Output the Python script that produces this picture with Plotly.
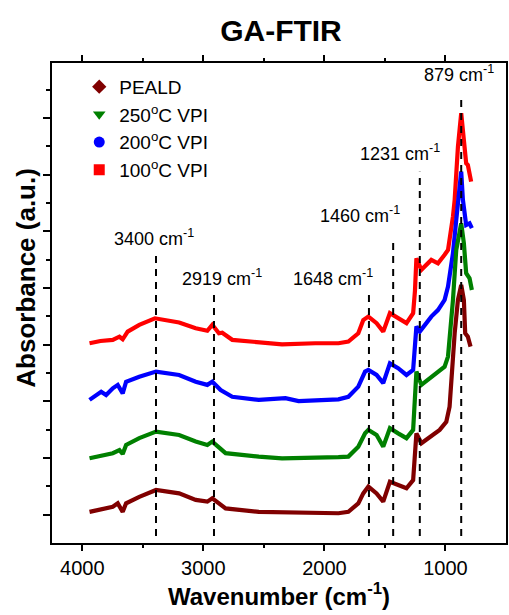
import plotly.graph_objects as go

# ---- data ----
wn_100 = [3940, 3850, 3748, 3693, 3666, 3625, 3529, 3400, 3200, 3063, 2967, 2926, 2871, 2844, 2761, 2542, 2350, 2076, 1884,
          1802, 1720, 1679, 1637, 1569, 1514, 1459, 1391, 1322, 1267, 1252, 1240, 1212, 1199, 1117, 1062, 1007, 979, 938,
          924, 897, 870, 850, 829, 815, 788]
ab_100 = [7.05, 7.13, 7.17, 7.28, 7.19, 7.46, 7.70, 7.93, 7.78, 7.58, 7.49, 7.70, 7.40, 7.42, 7.17, 7.08, 7.01, 7.05, 7.05,
          7.11, 7.40, 7.87, 7.99, 7.76, 7.46, 8.11, 7.93, 7.76, 8.11, 8.9, 10.05, 9.70, 9.64, 9.99, 9.87, 10.17, 10.34, 11.52,
          12.11, 13.99, 15.17, 14.3, 13.40, 13.34, 12.75]

wn_200 = [3940, 3885, 3844, 3803, 3748, 3707, 3666, 3638, 3529, 3391, 3200, 3063, 2967, 2926, 2857, 2761, 2542, 2322, 2213,
          1884, 1802, 1720, 1664, 1637, 1569, 1514, 1459, 1391, 1322, 1267, 1240, 1212, 1171, 1117, 1062, 1007, 979, 938,
          911, 870, 856, 842, 829, 801, 782]
ab_200 = [5.05, 5.22, 5.34, 5.22, 5.46, 5.58, 5.28, 5.69, 5.87, 6.05, 5.93, 5.69, 5.58, 5.69, 5.40, 5.16, 5.05, 5.11, 5.01,
          5.07, 5.16, 5.52, 6.05, 6.11, 5.93, 5.64, 6.34, 6.17, 5.93, 6.11, 7.64, 7.46, 7.70, 7.99, 8.22, 8.58, 9.05, 10.23,
          11.40, 13.11, 12.11, 11.75, 11.22, 11.28, 11.11]

wn_250 = [3940, 3748, 3693, 3666, 3638, 3529, 3391, 3200, 3063, 2967, 2926, 2857, 2816, 2542, 2350, 1884, 1802, 1720, 1664,
          1637, 1569, 1514, 1459, 1391, 1322, 1267, 1240, 1199, 1130, 1076, 1007, 979, 938, 911, 870, 848, 829, 801, 782]
ab_250 = [2.99, 3.17, 3.28, 3.14, 3.46, 3.70, 3.93, 3.81, 3.58, 3.46, 3.58, 3.34, 3.17, 3.05, 2.99, 3.03, 3.05, 3.40, 3.87,
          3.99, 3.81, 3.40, 4.05, 3.87, 3.70, 3.99, 6.05, 5.58, 5.81, 5.99, 6.22, 6.58, 8.58, 10.34, 11.28, 10.58, 9.52,
          9.34, 8.93]

wn_peald = [3940, 3748, 3707, 3666, 3638, 3529, 3391, 3200, 3063, 2967, 2926, 2857, 2816, 2542, 1884, 1802, 1720, 1679,
            1637, 1569, 1514, 1459, 1391, 1322, 1267, 1240, 1199, 1144, 1089, 1048, 993, 966, 924, 897, 870, 848, 837, 815,
            793]
ab_peald = [1.10, 1.28, 1.40, 1.10, 1.40, 1.63, 1.87, 1.75, 1.52, 1.46, 1.58, 1.34, 1.22, 1.10, 1.05, 1.10, 1.40, 1.75,
            1.99, 1.75, 1.46, 2.16, 2.05, 1.93, 2.22, 3.87, 3.52, 3.70, 3.87, 3.99, 4.28, 4.81, 7.40, 8.58, 9.11, 8.58, 7.40,
            7.28, 6.93]

series_names = ["PEALD", "250<sup>o</sup>C VPI", "200<sup>o</sup>C VPI", "100<sup>o</sup>C VPI"]
series_colors = ["#800000", "#008000", "#0000FF", "#FF0000"]
series_symbols = ["diamond", "triangle-down", "circle", "square"]

# dashed guide lines (positions as drawn in the picture)
guide_wn = [3391, 2912, 1632, 1432, 1212, 870]
guide_top = [10.27, 8.82, 8.75, 10.7, 13.1, 15.8]
peak_labels = ["3400 cm<sup>-1</sup>", "2919 cm<sup>-1</sup>", "1648 cm<sup>-1</sup>",
               "1460 cm<sup>-1</sup>", "1231 cm<sup>-1</sup>", "879 cm<sup>-1</sup>"]
label_wn = [3405, 2846, 1932, 1703, 1374, 889]
label_y = [10.3, 8.9, 8.9, 11.1, 13.3, 16.1]

x_ticks = [4000, 3000, 2000, 1000]

FONT = "Arial, Liberation Sans, sans-serif"

fig = go.Figure()

data = [(wn_peald, ab_peald), (wn_250, ab_250), (wn_200, ab_200), (wn_100, ab_100)]
for i in [3, 2, 1, 0]:
    xs, ys = data[i]
    fig.add_trace(go.Scatter(x=xs, y=ys, mode="lines", line=dict(color=series_colors[i], width=4.2),
                             showlegend=False, hoverinfo="skip"))

for w, t in zip(guide_wn, guide_top):
    fig.add_trace(go.Scatter(x=[w, w], y=[0.25, t], mode="lines",
                             line=dict(color="black", width=2, dash="7px,6px"),
                             showlegend=False, hoverinfo="skip"))

for name, col, sym in zip(series_names, series_colors, series_symbols):
    fig.add_trace(go.Scatter(x=[None], y=[None], mode="markers", name=name,
                             marker=dict(color=col, symbol=sym, size=11)))

for txt, xw, yv in zip(peak_labels, label_wn, label_y):
    fig.add_annotation(x=xw, y=yv, xref="x", yref="y", text=txt, showarrow=False,
                       xanchor="center", yanchor="bottom", font=dict(size=18, color="black", family=FONT))

# y axis title
fig.add_annotation(x=-0.058, y=0.552, xref="paper", yref="paper", text="<b>Absorbance (a.u.)</b>",
                   textangle=-90, showarrow=False, xanchor="center", yanchor="middle",
                   font=dict(size=26, color="black", family=FONT))

fig.update_layout(
    width=509, height=615,
    margin=dict(l=52, r=1, t=63, b=72),
    paper_bgcolor="white", plot_bgcolor="white",
    font=dict(family=FONT, color="black"),
    title=dict(text="<b>GA-FTIR</b>", x=0.552, xanchor="center", y=1 - 30 / 615, yanchor="middle",
               font=dict(size=30, family=FONT, color="black")),
    legend=dict(x=0.06, y=0.99, xanchor="left", yanchor="top", bgcolor="rgba(0,0,0,0)",
                font=dict(size=19, family=FONT), itemwidth=30, tracegroupgap=0),
    showlegend=True,
)

fig.update_xaxes(range=[4250, 500], tickvals=x_ticks, ticktext=[str(v) for v in x_ticks],
                 ticks="outside", ticklen=6, tickwidth=1.5, tickcolor="black",
                 minor=dict(tickvals=[3500, 2500, 1500], ticks="outside", ticklen=3, tickwidth=1.5, tickcolor="black"),
                 showline=True, linecolor="black", linewidth=1.5, mirror="ticks",
                 showgrid=False, zeroline=False, tickfont=dict(size=20, family=FONT),
                 title=dict(text="<b>Wavenumber (cm<sup>-1</sup>)</b>", font=dict(size=24, family=FONT), standoff=10))

fig.update_yaxes(range=[0, 16.94], tickvals=[1, 3, 5, 7, 9, 11, 13, 15], showticklabels=False,
                 ticks="outside", ticklen=7, tickwidth=1.5, tickcolor="black",
                 minor=dict(tickvals=[2, 4, 6, 8, 10, 12, 14, 16], ticks="outside", ticklen=4, tickwidth=1.5,
                            tickcolor="black"),
                 showline=True, linecolor="black", linewidth=1.5, mirror=True,
                 showgrid=False, zeroline=False)

fig.write_html("out.html")
